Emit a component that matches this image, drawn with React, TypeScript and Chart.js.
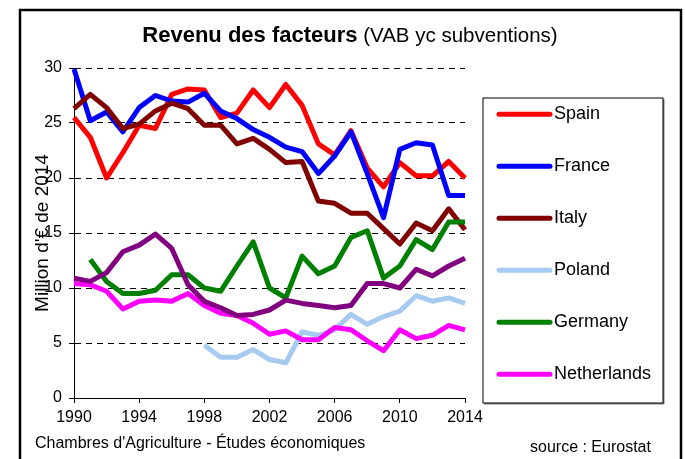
import React, { useEffect, useRef } from "react";
import { Chart, registerables } from "chart.js";

Chart.register(...registerables);

const years = [1990, 1991, 1992, 1993, 1994, 1995, 1996, 1997, 1998, 1999, 2000, 2001, 2002, 2003, 2004, 2005, 2006, 2007, 2008, 2009, 2010, 2011, 2012, 2013, 2014];

const spain = [25.5, 23.7, 20.0, 22.3, 24.8, 24.5, 27.6, 28.1, 28.0, 25.5, 25.9, 28.0, 26.4, 28.5, 26.6, 23.1, 22.1, 24.3, 20.9, 19.2, 21.4, 20.2, 20.2, 21.5, 20.0];
const france = [29.9, 25.2, 26.0, 24.2, 26.4, 27.5, 27.0, 26.9, 27.7, 26.1, 25.4, 24.4, 23.7, 22.8, 22.4, 20.4, 22.0, 24.2, 20.4, 16.4, 22.6, 23.2, 23.0, 18.4, 18.4];
const italy = [26.3, 27.6, 26.4, 24.5, 24.9, 26.1, 26.8, 26.3, 24.8, 24.8, 23.1, 23.6, 22.6, 21.4, 21.5, 17.9, 17.7, 16.8, 16.8, 15.4, 14.0, 15.9, 15.2, 17.2, 15.3];
const poland = [null, null, null, null, null, null, null, null, 4.8, 3.7, 3.7, 4.4, 3.5, 3.2, 6.0, 5.7, 6.2, 7.6, 6.7, 7.4, 7.9, 9.3, 8.8, 9.1, 8.6];
const germany = [null, 12.6, 10.6, 9.5, 9.5, 9.8, 11.2, 11.2, 10.0, 9.7, 12.0, 14.2, 10.0, 9.1, 12.9, 11.3, 12.0, 14.6, 15.2, 10.9, 12.0, 14.4, 13.5, 16.0, 16.0];
const netherlands = [10.4, 10.3, 9.7, 8.1, 8.8, 8.9, 8.8, 9.5, 8.4, 7.7, 7.5, 6.8, 5.8, 6.1, 5.3, 5.3, 6.4, 6.2, 5.2, 4.3, 6.2, 5.4, 5.7, 6.6, 6.2];
const unlabelled = [10.9, 10.6, 11.4, 13.3, 13.9, 14.9, 13.6, 10.3, 8.8, 8.2, 7.5, 7.6, 8.0, 8.9, 8.6, 8.4, 8.2, 8.4, 10.4, 10.4, 10.0, 11.7, 11.1, 12.0, 12.7];

const seriesNames = ["Spain", "France", "Italy", "Poland", "Germany", "Netherlands", ""];
const seriesColors = ["#FF0000", "#0000FF", "#800000", "#A6CAF0", "#008000", "#FF00FF", "#800080"];
const seriesValues = [spain, france, italy, poland, germany, netherlands, unlabelled];

const titleBold = "Revenu des facteurs";
const titleRegular = " (VAB yc subventions)";
const yTitle = "Million d'€ de 2014";
const footerLeft = "Chambres d'Agriculture - Études économiques";
const footerRight = "source : Eurostat";

const FONT = '"Liberation Sans", Arial, sans-serif';

const decorPlugin = {
  id: "decor",
  afterDraw(chart: any) {
    const ctx = chart.ctx;
    ctx.save();
    // outer frame
    ctx.strokeStyle = "#000";
    ctx.lineWidth = 2.5;
    ctx.strokeRect(20, 10, 661, 480);

    // title
    ctx.fillStyle = "#000";
    ctx.textBaseline = "alphabetic";
    ctx.font = `bold 22px ${FONT}`;
    const wb = ctx.measureText(titleBold).width;
    ctx.font = `20.5px ${FONT}`;
    const wr = ctx.measureText(titleRegular).width;
    const startX = 350 - (wb + wr) / 2;
    ctx.font = `bold 22px ${FONT}`;
    ctx.textAlign = "left";
    ctx.fillText(titleBold, startX, 42);
    ctx.font = `20.5px ${FONT}`;
    ctx.fillText(titleRegular, startX + wb, 42);

    // legend box
    ctx.fillStyle = "#808080";
    ctx.fillRect(484, 403, 180, 1.5);
    ctx.fillRect(663, 99, 1.5, 305);
    ctx.strokeStyle = "#000";
    ctx.lineWidth = 1;
    ctx.strokeRect(483, 98, 180, 305);
    let row = 0;
    chart.data.datasets.forEach((ds: any) => {
      if (!ds.label) return;
      const y = 114.3 + row * 52;
      ctx.strokeStyle = ds.borderColor;
      ctx.lineWidth = 5;
      ctx.lineCap = "round";
      ctx.beginPath();
      ctx.moveTo(499, y);
      ctx.lineTo(550, y);
      ctx.stroke();
      ctx.fillStyle = "#000";
      ctx.font = `18px ${FONT}`;
      ctx.textBaseline = "middle";
      ctx.textAlign = "left";
      ctx.fillText(ds.label, 554, y);
      row++;
    });

    // footer
    ctx.font = `16px ${FONT}`;
    ctx.textBaseline = "middle";
    ctx.fillStyle = "#000";
    ctx.fillText(footerLeft, 35, 444);
    ctx.fillText(footerRight, 530, 448);
    ctx.restore();
  },
};

export default function App() {
  const ref = useRef<HTMLCanvasElement | null>(null);
  useEffect(() => {
    document.body.style.margin = "0";
    Chart.defaults.font.family = FONT;
    const chart = new Chart(ref.current as HTMLCanvasElement, {
      type: "line",
      data: {
        datasets: seriesValues.map((vals, i) => ({
          label: seriesNames[i],
          data: vals.map((v, j) => ({ x: years[j], y: v })),
          borderColor: seriesColors[i],
          backgroundColor: seriesColors[i],
          borderWidth: 5,
          borderJoinStyle: "round" as const,
          pointRadius: 0,
          tension: 0,
          fill: false,
          clip: false as any,
          order: -i,
        })),
      },
      options: {
        animation: false,
        responsive: false,
        events: [],
        layout: { padding: { left: 0, top: 68, right: 220, bottom: 31 } },
        plugins: { legend: { display: false }, title: { display: false }, tooltip: { enabled: false } },
        scales: {
          x: {
            type: "linear",
            min: 1990,
            max: 2014,
            afterFit: (s: any) => { s.height = 30; },
            ticks: {
              stepSize: 4,
              color: "#000",
              font: { size: 16 },
              padding: 5,
              maxRotation: 0,
              callback: (v: any) => String(v),
            },
            grid: { drawOnChartArea: false, drawTicks: true, tickLength: 5, color: "#000", lineWidth: 1 },
            border: { display: true, color: "#000", width: 1 },
          },
          y: {
            type: "linear",
            min: 0,
            max: 30,
            afterFit: (s: any) => { s.width = 74; },
            ticks: { stepSize: 5, color: "#000", font: { size: 16 }, padding: 7, callback: (v: any) => String(v) },
            grid: { color: "#000", lineWidth: 1, drawTicks: true, tickLength: 5, tickColor: "#000", tickBorderDash: [] },
            border: { display: true, color: "#000", width: 1, dash: [6, 5] },
            title: {
              display: true,
              text: yTitle,
              color: "#000",
              font: { size: 19, lineHeight: 1.2 },
              padding: { top: 31, bottom: 0 },
            },
          },
        },
      },
      plugins: [decorPlugin],
    });
    return () => chart.destroy();
  }, []);
  return (
    <div style={{ width: 685, height: 459, position: "relative" }}>
      <canvas ref={ref} width={685} height={459} />
    </div>
  );
}
